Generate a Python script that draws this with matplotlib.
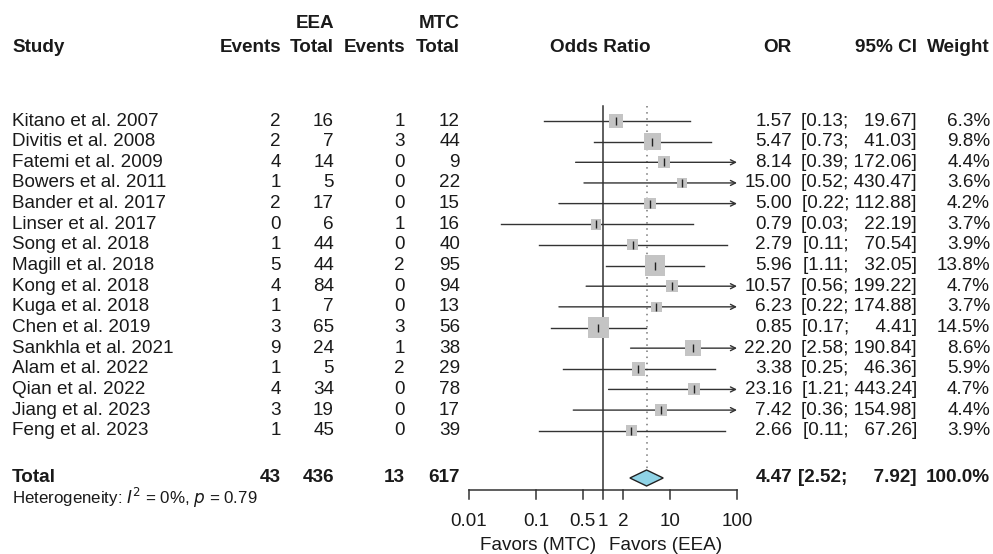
import matplotlib
matplotlib.use("Agg")
import matplotlib.pyplot as plt
import numpy as np

plt.rcParams['font.family'] = ['Liberation Sans', 'DejaVu Sans']

studies = ["Kitano et al. 2007", "Divitis et al. 2008", "Fatemi et al. 2009", "Bowers et al. 2011",
           "Bander et al. 2017", "Linser et al. 2017", "Song et al. 2018", "Magill et al. 2018",
           "Kong et al. 2018", "Kuga et al. 2018", "Chen et al. 2019", "Sankhla et al. 2021",
           "Alam et al. 2022", "Qian et al. 2022", "Jiang et al. 2023", "Feng et al. 2023"]
eea_events = [2, 2, 4, 1, 2, 0, 1, 5, 4, 1, 3, 9, 1, 4, 3, 1]
eea_total = [16, 7, 14, 5, 17, 6, 44, 44, 84, 7, 65, 24, 5, 34, 19, 45]
mtc_events = [1, 3, 0, 0, 0, 1, 0, 2, 0, 0, 3, 1, 2, 0, 0, 0]
mtc_total = [12, 44, 9, 22, 15, 16, 40, 95, 94, 13, 56, 38, 29, 78, 17, 39]
odds_ratio = [1.57, 5.47, 8.14, 15.00, 5.00, 0.79, 2.79, 5.96, 10.57, 6.23, 0.85, 22.20, 3.38, 23.16, 7.42, 2.66]
ci_low = [0.13, 0.73, 0.39, 0.52, 0.22, 0.03, 0.11, 1.11, 0.56, 0.22, 0.17, 2.58, 0.25, 1.21, 0.36, 0.11]
ci_high = [19.67, 41.03, 172.06, 430.47, 112.88, 22.19, 70.54, 32.05, 199.22, 174.88, 4.41, 190.84,
           46.36, 443.24, 154.98, 67.26]
weights = [6.3, 9.8, 4.4, 3.6, 4.2, 3.7, 3.9, 13.8, 4.7, 3.7, 14.5, 8.6, 5.9, 4.7, 4.4, 3.9]

total_eea_events, total_eea_n = 43, 436
total_mtc_events, total_mtc_n = 13, 617
total_or, total_low, total_high = 4.47, 2.52, 7.92
total_weight = 100.0
het_i2, het_p = 0, 0.79

tick_values = [0.01, 0.1, 0.5, 1, 2, 10, 100]
tick_labels = ["0.01", "0.1", "0.5", "1", "2", "10", "100"]

W, H = 993, 554
fig = plt.figure(figsize=(W / 100, H / 100), dpi=100)
ax = fig.add_axes([0, 0, 1, 1])
ax.set_xlim(0, W)
ax.set_ylim(H, 0)
ax.axis('off')

x0, x1 = 469, 737
axf = fig.add_axes([x0 / W, 0, (x1 - x0) / W, 1])
axf.set_xscale('log')
axf.set_xlim(0.01, 100)
axf.set_ylim(H, 0)
axf.axis('off')

FS = 13.6
TC = '#1a1a1a'
LC = '#333333'

y_top = 121
dy = 20.65
row_y = [y_top + i * dy for i in range(len(studies))]
y_total = 478
y_axis = 490

# headers
hy1, hy2 = 23, 47
ax.text(334, hy1, "EEA", ha='right', va='center', fontsize=FS, fontweight='bold', color=TC)
ax.text(460, hy1, "MTC", ha='right', va='center', fontsize=FS, fontweight='bold', color=TC)
ax.text(12, hy2, "Study", ha='left', va='center', fontsize=FS, fontweight='bold', color=TC)
for x, t in [(281, "Events"), (334, "Total"), (405, "Events"), (460, "Total"),
             (792, "OR"), (917, "95% CI"), (990, "Weight")]:
    ax.text(x, hy2, t, ha='right', va='center', fontsize=FS, fontweight='bold', color=TC)
ax.text(600, hy2, "Odds Ratio", ha='center', va='center', fontsize=FS, fontweight='bold', color=TC)


def ci_str(lo, hi, width):
    h = f"{hi:.2f}"
    pad = "  " * (width - len(h))
    return f"[{lo:.2f}; {pad}{h}]"


for i, y in enumerate(row_y):
    ax.text(12, y, studies[i], ha='left', va='center', fontsize=FS, color=TC)
    ax.text(281, y, str(eea_events[i]), ha='right', va='center', fontsize=FS, color=TC)
    ax.text(334, y, str(eea_total[i]), ha='right', va='center', fontsize=FS, color=TC)
    ax.text(405, y, str(mtc_events[i]), ha='right', va='center', fontsize=FS, color=TC)
    ax.text(460, y, str(mtc_total[i]), ha='right', va='center', fontsize=FS, color=TC)
    ax.text(792, y, f"{odds_ratio[i]:.2f}", ha='right', va='center', fontsize=FS, color=TC)
    ax.text(917, y, ci_str(ci_low[i], ci_high[i], 6), ha='right', va='center', fontsize=FS, color=TC)
    ax.text(990, y, f"{weights[i]:.1f}%", ha='right', va='center', fontsize=FS, color=TC)

# total row
ax.text(12, y_total, "Total", ha='left', va='center', fontsize=FS, fontweight='bold', color=TC)
for x, t in [(281, total_eea_events), (334, total_eea_n), (405, total_mtc_events), (460, total_mtc_n)]:
    ax.text(x, y_total, str(t), ha='right', va='center', fontsize=FS, fontweight='bold', color=TC)
ax.text(792, y_total, f"{total_or:.2f}", ha='right', va='center', fontsize=FS, fontweight='bold', color=TC)
ax.text(917, y_total, ci_str(total_low, total_high, 6), ha='right', va='center', fontsize=FS,
        fontweight='bold', color=TC)
ax.text(990, y_total, f"{total_weight:.1f}%", ha='right', va='center', fontsize=FS, fontweight='bold', color=TC)
ax.text(12, 498, f"Heterogeneity: $I^2$ = {het_i2}%, $p$ = {het_p:.2f}", ha='left', va='center',
        fontsize=12.2, color=TC)

# reference lines
axf.plot([1, 1], [106, y_axis], color=LC, lw=1.1, zorder=1)
axf.plot([total_or, total_or], [106, y_total - 8], color='#777777', lw=1.1, ls=(0, (1, 3)), zorder=1)

# study CIs
for i, y in enumerate(row_y):
    lo, hi = ci_low[i], ci_high[i]
    if hi > 100:
        axf.annotate('', xy=(100, y), xytext=(max(lo, 0.01), y),
                     arrowprops=dict(arrowstyle='->', lw=1.0, color=LC, shrinkA=0, shrinkB=0,
                                     mutation_scale=9),
                     annotation_clip=False, zorder=2)
    else:
        axf.plot([max(lo, 0.01), hi], [y, y], color=LC, lw=1.0, zorder=2, clip_on=False)

axf.scatter(odds_ratio, row_y, s=[16 * w for w in weights], marker='s', color='#c4c4c4',
            edgecolors='none', zorder=3, clip_on=False)
axf.scatter(odds_ratio, row_y, s=26, marker='|', color='#222222', linewidths=1.0, zorder=4, clip_on=False)

# diamond
dh = 8
axf.fill([total_low, total_or, total_high, total_or], [y_total, y_total - dh, y_total, y_total + dh],
         facecolor='#8fd3e6', edgecolor='#222222', lw=1.0, zorder=4, clip_on=False)

# axis
axf.plot([0.01, 100], [y_axis, y_axis], color=LC, lw=1.1, clip_on=False)
for tv, tl in zip(tick_values, tick_labels):
    axf.plot([tv, tv], [y_axis, y_axis + 9], color=LC, lw=1.1, clip_on=False)
    axf.text(tv, 522, tl, ha='center', va='center', fontsize=FS, color=TC)
axf.text(0.8, 545, "Favors (MTC)", ha='right', va='center', fontsize=FS, color=TC)
axf.text(1.25, 545, "Favors (EEA)", ha='left', va='center', fontsize=FS, color=TC)

fig.savefig("out.png", dpi=100)
